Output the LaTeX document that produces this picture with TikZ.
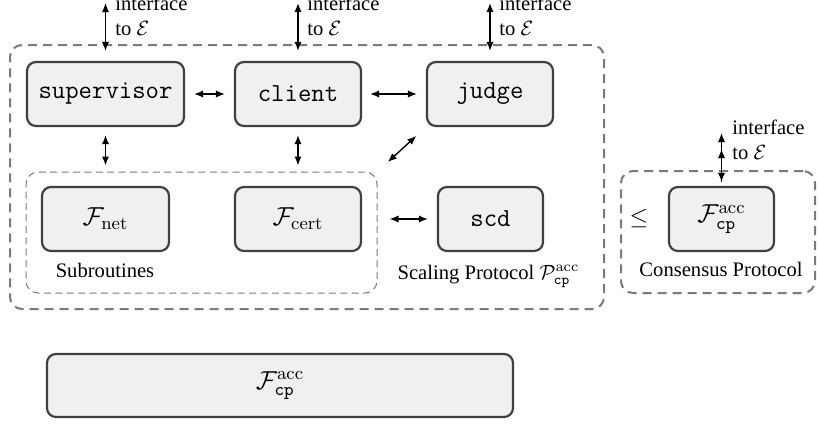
\RequirePackage{fix-cm}
\documentclass[tikz,border=0pt]{standalone}
\usepackage[no-math]{fontspec}
\setmainfont{Liberation Serif}
\usetikzlibrary{arrows.meta}
\definecolor{boxfill}{HTML}{F0F0F0}
\definecolor{boxline}{HTML}{404040}
\definecolor{dashgray}{HTML}{7A7A7A}
\tikzset{
  unit/.style={draw=boxline, fill=boxfill, line width=1.1pt, rounded corners=4.5pt, inner sep=0pt,
    minimum height=32pt, font=\fontsize{13}{15.6}\selectfont},
  bigdash/.style={draw=dashgray, line width=1pt, dash pattern=on 4.5pt off 3pt, rounded corners=6pt, inner sep=0pt},
  smalldash/.style={draw=dashgray, line width=0.5pt, dash pattern=on 3.5pt off 2.2pt, rounded corners=6pt, inner sep=0pt},
  tip/.style={Latex[length=4.5pt,width=3.6pt]},
  arr/.style={{Latex[length=4.5pt,width=3.6pt]}-{Latex[length=4.5pt,width=3.6pt]}, line width=0.7pt},
  lbl/.style={font=\fontsize{10.3}{12.4}\selectfont, inner sep=0pt},
  iflbl/.style={lbl, align=left, anchor=base west},
}
\begin{document}
\begin{tikzpicture}[x=0.5pt,y=-0.5pt]
\useasboundingbox (0,0) rectangle (818,423);
% containers
\node[bigdash, minimum width=297pt, minimum height=132pt] (scal) at (307,177) {};
\node[smalldash, minimum width=175.5pt, minimum height=60.5pt] (sub) at (201.5,232.5) {};
\node[bigdash, minimum width=97pt, minimum height=61pt] (cons) at (718,232) {};
% units
\node[unit, minimum width=78.5pt] (sup) at (105.5,94) {\texttt{supervisor}};
\node[unit, minimum width=63pt] (cli) at (298,94) {\texttt{client}};
\node[unit, minimum width=63pt] (jud) at (490,94) {\texttt{judge}};
\node[unit, minimum width=63.5pt] (fnet) at (105.5,219) {$\mathcal{F}_{\mathrm{net}}$};
\node[unit, minimum width=63pt] (fcert) at (298,219) {$\mathcal{F}_{\mathrm{cert}}$};
\node[unit, minimum width=52.5pt] (scd) at (490.5,219) {\texttt{scd}};
\node[unit, minimum width=52.5pt] (fcp) at (721.5,219) {$\mathcal{F}^{\mathrm{acc}}_{\mathtt{cp}}$};
\node[unit, minimum width=233pt, minimum height=31.5pt] (ideal) at (280,385.5) {$\mathcal{F}^{\mathrm{acc}}_{\mathtt{cp}}$};
% labels
\node[lbl, anchor=base] (lsub) at (105,277) {Subroutines};
\node[lbl, anchor=base] (lscal) at (488.5,279) {Scaling Protocol $\mathcal{P}^{\mathrm{acc}}_{\mathtt{cp}}$};
\node[lbl, anchor=base] (lcons) at (721,276) {Consensus Protocol};
\node[inner sep=0pt, font=\fontsize{12}{14}\selectfont] (leq) at (639,218) {$\leq$};
% interface
\coordinate (esup) at (105.5,3);
\coordinate (ecli) at (298,3);
\coordinate (ejud) at (490,3);
\coordinate (ecp) at (721.5,133);
\coordinate (ecpmid) at (721.5,149);
\draw[arr, shorten >=5pt] (esup) -- (sup.north);
\draw[arr, shorten >=5pt] (ecli) -- (cli.north);
\draw[arr, shorten >=5pt] (ejud) -- (jud.north);
\draw[arr, shorten >=2pt] (ecp) -- (fcp.north);
\draw[-{Latex[length=4.5pt,width=3.6pt]}, line width=0.7pt, shorten <=2pt] (fcp.north) -- (ecpmid);
\node[iflbl] (isup) at (115,35) {interface\\to $\mathcal{E}$};
\node[iflbl] (icli) at (307,35) {interface\\to $\mathcal{E}$};
\node[iflbl] (ijud) at (499,35) {interface\\to $\mathcal{E}$};
\node[iflbl] (icp) at (732,159) {interface\\to $\mathcal{E}$};
% connectors
\draw[arr, shorten <=4.5pt, shorten >=4.5pt] (sup.east) -- (cli.west);
\draw[arr, shorten <=4pt, shorten >=4.5pt] (cli.east) -- (jud.west);
\draw[arr, shorten <=4pt, shorten >=3pt] (sup.south) -- (sup.south |- sub.north);
\draw[arr, shorten <=4pt, shorten >=3pt] (cli.south) -- (cli.south |- sub.north);
\draw[arr, shorten <=7pt, shorten >=6.5pt] (sub.north east) -- (jud.south west);
\draw[arr, shorten <=6pt, shorten >=4.5pt] (fcert.east -| sub.east) -- (scd.west);
\end{tikzpicture}
\end{document}
